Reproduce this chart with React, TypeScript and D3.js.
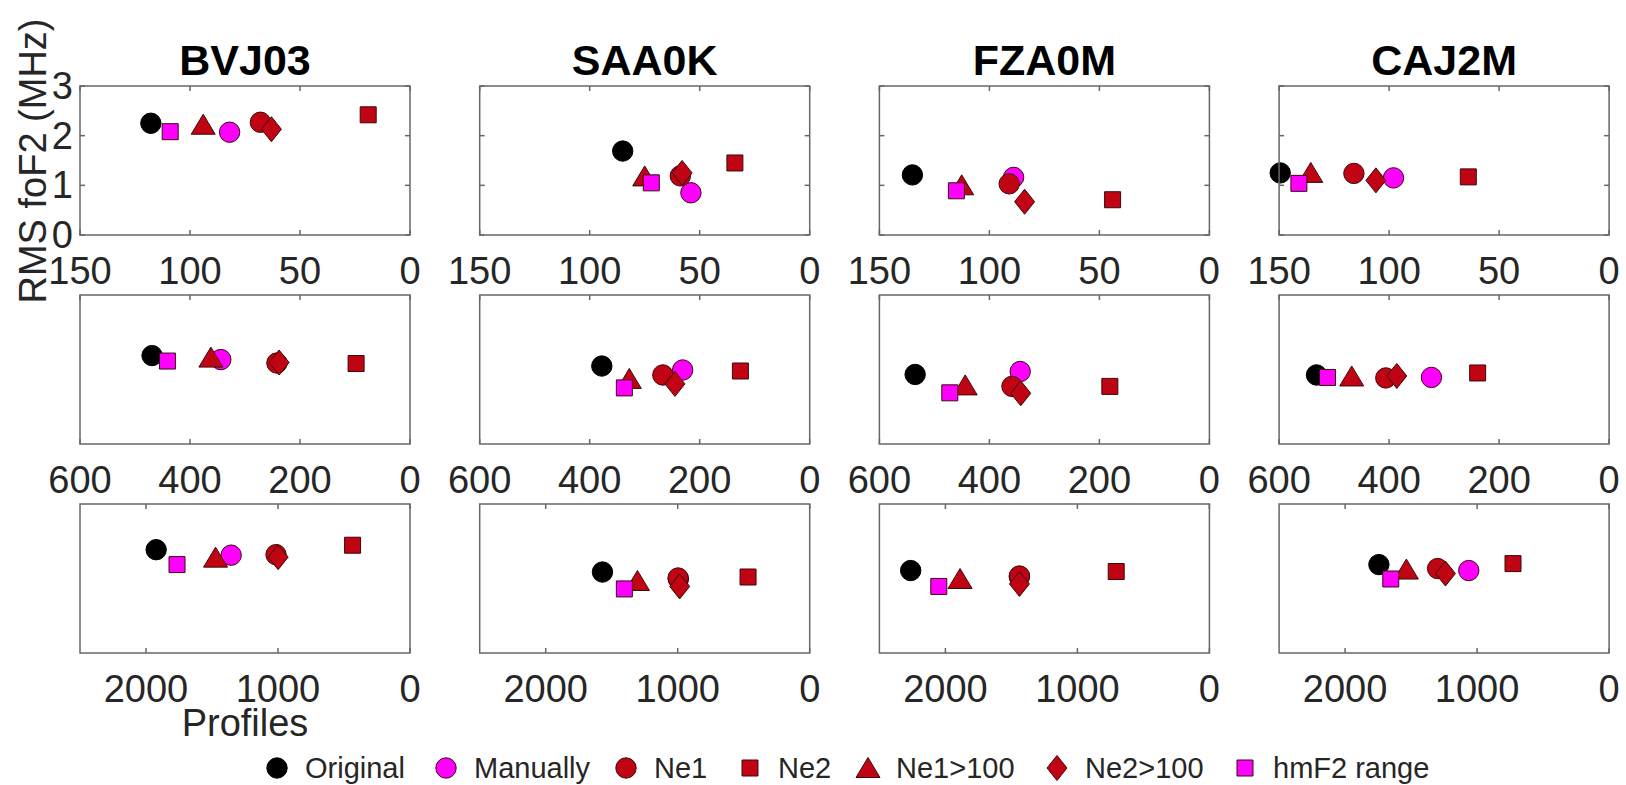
import React from "react";
import * as d3 from "d3";

// Station names (one column of panels each)
const STATIONS = ["BVJ03", "SAA0K", "FZA0M", "CAJ2M"];
// Upper x limit per row (x axis runs from this value down to 0)
const ROW_XMAX = [150, 600, 2500];
const ROW_XTICKS = [
  [150, 100, 50, 0],
  [600, 400, 200, 0],
  [2000, 1000, 0],
];
const Y_DOMAIN = [0, 3];
const Y_TICKS = [0, 1, 2, 3];

// Each series: [profiles, RMS foF2] per panel, row by row, stations left to right
const original = [
  [117.8, 2.25], [85, 1.69], [135, 1.21], [149.5, 1.25],
  [469, 1.78], [378, 1.57], [535, 1.4], [532, 1.39],
  [1923, 2.08], [1570, 1.63], [2263, 1.66], [1744, 1.78],
];
const manually = [
  [82, 2.07], [54, 0.85], [89, 1.16], [98, 1.15],
  [344, 1.7], [231, 1.49], [344, 1.46], [323, 1.34],
  [1355, 1.97], [995, 1.49], [1440, 1.54], [1063, 1.66],
];
const ne1 = [
  [68, 2.27], [58.8, 1.19], [91, 1.03], [116, 1.24],
  [242, 1.63], [267, 1.39], [359, 1.16], [406, 1.33],
  [1015, 1.98], [997, 1.51], [1439, 1.55], [1299, 1.7],
];
const ne2 = [
  [19, 2.42], [34, 1.45], [44, 0.71], [64, 1.17],
  [98, 1.62], [126, 1.47], [181, 1.16], [239, 1.43],
  [435, 2.17], [467, 1.53], [706, 1.64], [728, 1.8],
];
const ne1Over100 = [
  [94, 2.22], [75, 1.18], [112.6, 1.0], [135.6, 1.25],
  [362, 1.74], [328, 1.31], [444, 1.18], [468, 1.36],
  [1473, 1.92], [1305, 1.45], [1889, 1.49], [1536, 1.68],
];
const ne2Over100 = [
  [63, 2.13], [58, 1.25], [84, 0.67], [106, 1.1],
  [238, 1.64], [245, 1.21], [343, 1.02], [386, 1.37],
  [999, 1.93], [985, 1.34], [1439, 1.39], [1240, 1.6],
];
const hmF2Range = [
  [109, 2.08], [72, 1.05], [115, 0.89], [141, 1.04],
  [441, 1.67], [337, 1.13], [472, 1.03], [512, 1.34],
  [1765, 1.78], [1404, 1.29], [2050, 1.34], [1654, 1.49],
];

const RED = "#C00414";
const MAGENTA = "#FF00FF";

type Shape = "circle" | "square" | "triangle" | "diamond";
const SERIES: { name: string; data: number[][]; shape: Shape; fill: string }[] = [
  { name: "Original", data: original, shape: "circle", fill: "#000000" },
  { name: "Manually", data: manually, shape: "circle", fill: MAGENTA },
  { name: "Ne1", data: ne1, shape: "circle", fill: RED },
  { name: "Ne2", data: ne2, shape: "square", fill: RED },
  { name: "Ne1>100", data: ne1Over100, shape: "triangle", fill: RED },
  { name: "Ne2>100", data: ne2Over100, shape: "diamond", fill: RED },
  { name: "hmF2 range", data: hmF2Range, shape: "square", fill: MAGENTA },
];

// Layout
const W = 1626;
const H = 785;
const PANEL_LEFT0 = 80;
const PANEL_PITCH = 399.7;
const PANEL_W = 330;
const ROW_TOPS = [86, 295, 504];
const PANEL_H = 149;
const TICK_LEN = 5;
const FONT = "'Liberation Sans', Arial, Helvetica, sans-serif";
const AXIS_COLOR = "#676767";
const TEXT_COLOR = "#262626";

function markerPath(shape: Shape, cx: number, cy: number): string {
  const p = d3.path();
  if (shape === "circle") {
    p.arc(cx, cy, 10.2, 0, Math.PI * 2);
  } else if (shape === "square") {
    const s = 8;
    p.rect(cx - s, cy - s, 2 * s, 2 * s);
  } else if (shape === "triangle") {
    p.moveTo(cx, cy - 10.5);
    p.lineTo(cx + 12, cy + 9.5);
    p.lineTo(cx - 12, cy + 9.5);
    p.closePath();
  } else {
    p.moveTo(cx, cy - 12.5);
    p.lineTo(cx + 10, cy);
    p.lineTo(cx, cy + 12.5);
    p.lineTo(cx - 10, cy);
    p.closePath();
  }
  return p.toString();
}

function Panel({ row, col }: { row: number; col: number }) {
  const left = PANEL_LEFT0 + col * PANEL_PITCH;
  const top = ROW_TOPS[row];
  const bottom = top + PANEL_H;
  const x = d3.scaleLinear().domain([ROW_XMAX[row], 0]).range([left, left + PANEL_W]);
  const y = d3.scaleLinear().domain(Y_DOMAIN).range([bottom, top]);
  const idx = row * STATIONS.length + col;
  const clipId = `clip-${row}-${col}`;
  return (
    <g>
      <defs>
        <clipPath id={clipId}>
          <rect x={left - 12} y={top} width={PANEL_W + 12} height={PANEL_H} />
        </clipPath>
      </defs>
      <rect x={left} y={top} width={PANEL_W} height={PANEL_H} fill="#fff" />
      {/* x ticks, inside top and bottom */}
      {ROW_XTICKS[row].map((t) => (
        <g key={`xt${t}`}>
          <line x1={x(t)} x2={x(t)} y1={bottom} y2={bottom - TICK_LEN} stroke={AXIS_COLOR} strokeWidth={1.5} />
          <line x1={x(t)} x2={x(t)} y1={top} y2={top + TICK_LEN} stroke={AXIS_COLOR} strokeWidth={1.5} />
          <text
            x={x(t)}
            y={bottom + 49}
            textAnchor="middle"
            fontSize={38}
            fontFamily={FONT}
            fill={TEXT_COLOR}
          >
            {t}
          </text>
        </g>
      ))}
      {/* y ticks only on the first row */}
      {row === 0 &&
        Y_TICKS.map((t) => (
          <g key={`yt${t}`}>
            <line x1={left} x2={left + TICK_LEN} y1={y(t)} y2={y(t)} stroke={AXIS_COLOR} strokeWidth={1.5} />
            <line x1={left + PANEL_W} x2={left + PANEL_W - TICK_LEN} y1={y(t)} y2={y(t)} stroke={AXIS_COLOR} strokeWidth={1.5} />
            {col === 0 && (
              <text
                x={left - 7}
                y={y(t) + 13}
                textAnchor="end"
                fontSize={38}
                fontFamily={FONT}
                fill={TEXT_COLOR}
              >
                {t}
              </text>
            )}
          </g>
        ))}
      <g clipPath={`url(#${clipId})`}>
        {SERIES.map((s) => {
          const [vx, vy] = s.data[idx];
          return (
            <path
              key={s.name}
              d={markerPath(s.shape, x(vx), y(vy))}
              fill={s.fill}
              stroke={s.fill === "#000000" ? "#000" : "#3a0a0a"}
              strokeWidth={1}
            />
          );
        })}
      </g>
      <rect x={left} y={top} width={PANEL_W} height={PANEL_H} fill="none" stroke={AXIS_COLOR} strokeWidth={1.5} />
      {row === 0 && (
        <text
          x={left + PANEL_W / 2}
          y={75}
          textAnchor="middle"
          fontSize={43}
          fontWeight="bold"
          fontFamily={FONT}
          fill="#000"
        >
          {STATIONS[col]}
        </text>
      )}
    </g>
  );
}

// Legend entry anchors (marker centre, label start)
const LEGEND_MARKER_X = [277, 446, 626, 750, 868, 1057, 1245];
const LEGEND_Y = 768;

export default function App() {
  return (
    <svg
      width={W}
      height={H}
      viewBox={`0 0 ${W} ${H}`}
      style={{ position: "absolute", left: 0, top: 0, background: "#fff" }}
    >
      <rect width={W} height={H} fill="#fff" />
      {ROW_TOPS.map((_, r) =>
        STATIONS.map((_, c) => <Panel key={`${r}-${c}`} row={r} col={c} />)
      )}
      <text
        transform={`translate(46, ${ROW_TOPS[0] + 75}) rotate(-90)`}
        textAnchor="middle"
        fontSize={38}
        fontFamily={FONT}
        fill={TEXT_COLOR}
      >
        RMS foF2 (MHz)
      </text>
      <text
        x={PANEL_LEFT0 + PANEL_W / 2}
        y={736}
        textAnchor="middle"
        fontSize={38}
        fontFamily={FONT}
        fill={TEXT_COLOR}
      >
        Profiles
      </text>
      {SERIES.map((s, i) => (
        <g key={s.name}>
          <path
            d={markerPath(s.shape, LEGEND_MARKER_X[i], LEGEND_Y)}
            fill={s.fill}
            stroke={s.fill === "#000000" ? "#000" : "#3a0a0a"}
            strokeWidth={1}
          />
          <text
            x={LEGEND_MARKER_X[i] + 28}
            y={LEGEND_Y + 10}
            fontSize={29}
            fontFamily={FONT}
            fill={TEXT_COLOR}
          >
            {s.name}
          </text>
        </g>
      ))}
    </svg>
  );
}
